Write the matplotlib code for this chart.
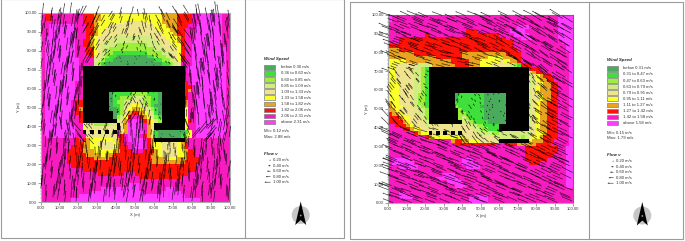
import numpy as np
import matplotlib
matplotlib.use('Agg')
import matplotlib.pyplot as plt
from matplotlib.colors import ListedColormap
from matplotlib.patches import Rectangle, Circle, Polygon
from matplotlib.ticker import MultipleLocator

plt.rcParams['font.family'] = ['Liberation Sans', 'DejaVu Sans']

# ==========================================
# data
# ==========================================
# class of each 2 m cell, top row first. # = building
field_a = """
8778888888 8777665555 5555555555 5566667777 8899999988
8778888888 8777665555 5555555555 5566667777 8899999988
8888888888 8777655555 5544444455 5566667777 8899999988
8899999998 8877655544 4444444444 5556667778 8999999988
8899999998 8877655444 4444444444 4555667788 8999999988
8899999998 8877654444 4444444444 4455567788 8999999988
8999999998 8876544443 3333333334 4445556788 8999999988
8999999998 8776544333 3333333333 3444556788 9999999988
8999999998 8776543333 2222222233 3344455788 9999999988
8999999998 8877543322 2222222222 3334445788 9999999998
8999999998 8877543221 1111111122 2233445788 9999999998
8999999998 8887443211 0000000011 2223345788 9999999998
8999999999 8888432110 0000000000 1122345788 9999999998
8999999999 8888321000 0000000000 0011234888 9999999998
8999999999 8######### ########## ########89 9999999998
8999999999 8######### ########## ########89 9999999998
8999999999 8######### ########## ########88 9999999998
8999999999 8######### ########## ########88 9999999998
8999999998 8######### ########## ########78 9999999998
8999999998 8######### ########## ########77 8999999998
8999999998 8######### ########## ########76 8999999998
8999999998 8#######01 1111222211 10######78 8999999998
8999999998 8#######01 1222333221 10######78 8999999998
8999999987 7#######01 2233443221 10######68 8999999998
8999999987 7#######01 1234554321 00######68 8999999998
8999999987 6#######00 1245665432 10######58 8999999998
8999999987 7########0 1246776543 10######58 8999999998
8999999988 7########0 2357887654 21######58 8999999998
8999999988 7######### 3468998765 32######57 8999999998
8999999988 8533222233 #469999864 ########58 8999999998
8999999998 8544444444 #469999864 ########58 8999999998
8999999998 8#4#4#4#4# 8469999864 1000000015 8999999998
8999999998 8844444444 8789998764 1000000125 8999999998
8888888887 8765555554 6789999876 ########68 8888888888
8888888887 7665544445 6788999876 5544445678 8888888888
8888888877 7665554445 6778999876 5544445678 8888888888
8888888777 7666555556 6777888777 6544445567 7888888888
8888888777 7766665667 7777777776 6544445567 7888888888
8888888777 7777666677 7777777776 6665556667 7788888888
8888888777 7777777777 7777777776 6666666677 7788888888
8888888877 7777777777 7777777777 7777777777 7888888888
8888888888 8777777777 7777777777 7777777777 7888888888
8888888888 8888877777 7788877777 7777777778 8888888888
8888888888 8888888888 8888887777 7777777888 8888888888
8888888888 8888888888 8888888888 8888888888 8888888888
8888888888 8888888888 8889998888 8888888888 8888888888
8888888888 8888889999 9999998888 8889998888 8888888888
8888888888 8889999999 9999999888 8899999888 8888888888
8888888888 9999999999 9999999999 9999999988 8888888888
8888888899 9999999999 9999999999 9999999999 9988888888
"""

field_b = """
9888888888 8888888888 8888888888 8888888888 8888889999
9888888888 8888888888 8888888888 8888888888 8888889999
8888888888 8888888888 8888888888 8888888888 8888889999
8888888888 8888888888 8888888888 8888899988 8888889999
8888888888 8888888888 8777888888 8889999888 8888889999
8888888888 7888888888 8777777777 8888999988 8888889999
8887777777 7777777777 7777777777 7788889998 8888889999
8887777777 7777777777 7777777777 7777888888 8888888999
7777777777 7777777777 7777777777 7777888888 8888888899
6667777777 7777777777 7777777777 7777788888 8888888899
6666666777 7777777777 6666666666 6677778888 8888888889
6666666666 6667777777 6666666555 5666778888 8888888889
5555566666 6666666777 7766655555 4556678888 8888888889
5544444433 3366666677 7766655544 4443217778 8888888889
5544444332 1######### ########## ########77 7888888889
5544444332 1######### ########## ########46 7788888889
5544444332 1######### ########## ########34 5677888889
5544444332 1######### ########## ########34 5667788889
5554444332 1######### ########## ########33 4566778889
5554444332 1######### ########## ########34 5666778889
5554444332 1######### ########## ########34 5666778889
5554444322 1#######01 1111110000 00######34 4566778889
5554444322 1#######01 1111110000 00######34 4566778889
6554444322 1#######11 1111110000 00######34 5667778889
6555444332 1#######21 1111100000 00######34 5667778889
6654444433 2########2 1111110000 00######34 5667778889
7665444433 2########2 2111110000 00######34 5667778889
7776554443 2########2 3211110000 00######34 5667778889
7777654444 3######### 3321111000 00######34 5667778889
8877765444 3444444444 4433221111 ########34 5667778889
8888776554 4444444444 4443322111 ########34 5667778889
8888888765 5#4#4#4#4# 4444333322 3333333334 5567778889
8888888888 7655555555 5444444443 3333332345 5677778889
8888888888 8888888677 6655544444 ########56 6677788889
8888888888 8888888877 7777777778 8877766666 7777888889
8888888888 8888888888 8888888888 8888888777 7777778899
8888888888 8888888888 8888888888 8888888777 7777778899
8888888888 8888888888 8888888888 8888888777 7777788899
8999998888 8888888888 9998888888 8888888777 7778888899
8999999888 8888888888 9999888888 8888888877 7888888899
8889999988 8888888888 8999988888 8888888888 8888888899
8888888888 8888888888 8888888888 8888888888 8888888899
8888888888 8888899988 8888888888 8888888888 8888888899
8888888888 8889999998 8888888888 8888888888 8888888899
8888888888 8888889999 8888888888 8888888888 8888888899
8888888888 8888888899 9888888888 8888888888 8888888899
8888888888 8888888888 8888888888 8888888888 8888888888
8889988888 8888888888 8888888888 8888888888 8888888888
8889999888 8888888888 8899999888 8888888888 8888888888
8888888888 8888888888 8899999888 8888888888 8888888888
"""

# vector angle from north in degrees for each 10 m block, top row first
angle_a = [
    [8, 8, 25, 30, 15, -10, -25, -30, -10, -8],
    [8, 8, 30, 35, 20, -15, -30, -35, -8, -6],
    [8, 10, 30, 40, 10, -10, -40, -35, -8, -6],
    [8, 8, 5, 0, 0, 0, 0, -5, -8, -8],
    [8, 6, 0, 0, 30, -30, 0, 0, -6, -8],
    [8, 5, 0, 0, 30, 10, -25, 0, -5, -8],
    [8, -10, -40, 20, 0, 5, -10, -20, 40, 10],
    [6, 3, -5, 5, 5, 5, 0, 0, 5, -5],
    [6, 5, 5, 5, 8, 8, 5, 5, 5, 5],
    [5, 5, 5, 5, 8, 8, 5, 5, 5, 5],
]
angle_b = [
    [-68, -68, -68, -68, -68, -66, -64, -62, -60, -60],
    [-70, -70, -70, -70, -70, -66, -62, -60, -58, -58],
    [-70, -72, -74, -76, -76, -72, -66, -58, -56, -58],
    [-40, -40, -60, 0, 0, 0, 0, -35, -52, -58],
    [-35, -35, -35, 0, -35, -30, 0, -25, -50, -60],
    [-45, -40, -40, 0, -30, -25, -30, -30, -55, -62],
    [-65, -68, -72, -72, -35, -50, -70, -60, -58, -64],
    [-68, -68, -68, -68, -68, -68, -66, -64, -64, -66],
    [-70, -70, -70, -70, -70, -68, -68, -66, -66, -66],
    [-70, -70, -70, -70, -70, -70, -68, -68, -68, -68],
]

# the vectors of the picture are not on a neat lattice, these shifts break it up
shift_x = [0.0, 1.7, -1.2, 2.4, -2.1, 0.6, 1.1, -0.4, -1.8, 2.0, 0.3, -2.5, 1.4]
shift_y = [0.4, -1.6, 1.9, -0.3, 2.3, -2.2, 0.9, 1.3, -1.1, -2.4, 2.0]
turn = [0, 1, -1, 2, -2, 1, -2, 2, -1]

labels_a = ['below 0.36 m/s', '0.36 to 0.60 m/s', '0.60 to 0.85 m/s', '0.85 to 1.09 m/s',
            '1.09 to 1.33 m/s', '1.33 to 1.58 m/s', '1.58 to 1.82 m/s', '1.82 to 2.06 m/s',
            '2.06 to 2.31 m/s', 'above 2.31 m/s']
labels_b = ['below 0.31 m/s', '0.31 to 0.47 m/s', '0.47 to 0.63 m/s', '0.63 to 0.79 m/s',
            '0.79 to 0.95 m/s', '0.95 to 1.11 m/s', '1.11 to 1.27 m/s', '1.27 to 1.42 m/s',
            '1.42 to 1.58 m/s', 'above 1.58 m/s']
speed_a = [0.24, 0.48, 0.72, 0.97, 1.21, 1.45, 1.70, 1.94, 2.18, 2.50]
speed_b = [0.23, 0.39, 0.55, 0.71, 0.87, 1.03, 1.19, 1.35, 1.50, 1.68]
minmax_a = ['Min: 0.12 m/s', 'Max: 2.88 m/s']
minmax_b = ['Min: 0.15 m/s', 'Max: 1.79 m/s']
flow_vals = [0.20, 0.40, 0.60, 0.80, 1.00]

colors = ['#4bab5c', '#40e03c', '#9cf03c', '#d2ec80', '#efe48e',
          '#fbff2c', '#e8a41e', '#ff1208', '#f81cc0', '#ff3cff', '#000000']
cmap = ListedColormap(colors)

W, H = 685, 241
fig = plt.figure(figsize=(W / 100, H / 100), dpi=100)
bg = fig.add_axes([0, 0, 1, 1])
bg.set_xlim(0, W)
bg.set_ylim(H, 0)
bg.axis('off')


def parse(field):
    rows = [r.replace(' ', '') for r in field.strip().splitlines()]
    return np.array([[10 if c == '#' else int(c) for c in r] for r in rows])


def draw_panel(field, angles, speeds, box, factor, edge):
    x0, y0, x1, y1 = box
    ax = fig.add_axes([x0 / W, 1 - y1 / H, (x1 - x0) / W, (y1 - y0) / H])
    grid = parse(field)
    ax.imshow(grid, cmap=cmap, vmin=0, vmax=10, extent=[0, 100, 0, 100],
              interpolation='nearest', aspect='auto')

    xs, ys, us, vs = [], [], [], []
    n = 0
    for j, yy in enumerate(np.arange(1.5, 100, 3.2)):
        for i, xx in enumerate(np.arange(1.0 + 1.4 * (j % 2), 100, 2.8)):
            n += 1
            x = np.clip(xx + shift_x[n % len(shift_x)], 0.2, 99.8)
            y = np.clip(yy + shift_y[n % len(shift_y)], 0.2, 99.8)
            k = grid[int((100 - y) // 2), int(x // 2)]
            if k == 10:
                continue
            a = np.radians(angles[int((100 - y) // 10)][int(x // 10)] + turn[n % len(turn)])
            s = speeds[k] * factor
            xs.append(x)
            ys.append(y)
            us.append(s * np.sin(a))
            vs.append(s * np.cos(a))
    ax.quiver(xs, ys, us, vs, angles='xy', scale_units='xy', scale=1, pivot='tail',
              color='#000000', width=0.0032, headwidth=2, headlength=2.5,
              headaxislength=2.5, alpha=0.85, clip_on=False, zorder=3)

    ax.set_xlim(0, 100)
    ax.set_ylim(0, 100)
    ax.xaxis.set_major_locator(MultipleLocator(10))
    ax.yaxis.set_major_locator(MultipleLocator(10))
    ax.xaxis.set_minor_locator(MultipleLocator(2))
    ax.yaxis.set_minor_locator(MultipleLocator(2))
    ax.xaxis.set_major_formatter('{x:.2f}')
    ax.yaxis.set_major_formatter('{x:.2f}')
    ax.tick_params(which='major', labelsize=3, length=2, width=0.4, pad=0.8, color='#555555', labelcolor='#333333')
    ax.tick_params(which='minor', length=1, width=0.3, color='#777777')
    ax.set_xlabel('X (m)', fontsize=3, labelpad=2, color='#333333')
    ax.set_ylabel('Y (m)', fontsize=3, labelpad=2, color='#333333')
    for name, sp in ax.spines.items():
        sp.set_linewidth(0.8)
        sp.set_color('#aaaaaa' if name in ('left', 'bottom') else edge)
    ax.patch.set_alpha(0)


def draw_legend(labels, minmax, xs, title_y, cx, cy):
    sx, tx, ax_r, ft = xs
    bg.text(sx, title_y, 'Wind Speed', fontsize=3.2, style='italic', weight='bold', va='center', color='#222222')
    for i, lab in enumerate(labels):
        y = title_y + 8.4 + i * 6.07
        bg.add_patch(Rectangle((sx, y - 2.3), 11, 4.6, facecolor=colors[i], edgecolor='#808080', linewidth=0.5))
        bg.text(tx, y, lab, fontsize=3.1, va='center', color='#333333')
    mm_y = title_y + 72.5
    bg.text(sx - 0.5, mm_y, minmax[0], fontsize=3.1, va='center', color='#333333')
    bg.text(sx - 0.5, mm_y + 5.6, minmax[1], fontsize=3.1, va='center', color='#333333')
    fy = title_y + 95
    bg.text(sx - 0.5, fy, 'Flow v', fontsize=3.2, style='italic', weight='bold', va='center', color='#222222')
    for i, v in enumerate(flow_vals):
        y = fy + 6.2 + i * 5.5
        bg.quiver([ax_r], [y], [-v * 6], [0], angles='xy', scale_units='xy', scale=1, color='#222222',
                  width=0.0008, headwidth=3, headlength=3, headaxislength=3, minlength=0)
        bg.text(ft, y, f'{v:.2f} m/s', fontsize=3.1, va='center', color='#333333')
    # north arrow
    bg.add_patch(Circle((cx, cy), 9, facecolor='#c6c6c6', edgecolor='none'))
    bg.add_patch(Polygon([(cx, cy - 13.5), (cx + 5.5, cy + 10), (cx, cy + 5), (cx - 5.5, cy + 10)],
                         facecolor='black', edgecolor='none'))
    bg.add_patch(Circle((cx, cy + 0.5), 0.9, facecolor='#999999', edgecolor='none'))


# frames
for (x, y, w, h, div) in [(1, -1, 343, 239, 245.5), (350.5, 2, 333, 237, 589.5)]:
    bg.add_patch(Rectangle((x, y), w, h, facecolor='white', edgecolor='#9a9a9a', linewidth=0.8))
    bg.plot([div, div], [y, y + h], color='#9a9a9a', linewidth=0.8)

draw_panel(field_a, angle_a, speed_a, (40.5, 13, 229.5, 202), 2.75, '#aaaaaa')
draw_panel(field_b, angle_b, speed_b, (388, 14.5, 573, 203), 4.0, '#9a4a9a')

draw_legend(labels_a, minmax_a, (264.5, 281, 270.5, 273.5), 59, 300.7, 215)
draw_legend(labels_b, minmax_b, (607.5, 623.5, 613.5, 616), 60, 642.3, 215.5)

fig.savefig('out.png', dpi=100)
